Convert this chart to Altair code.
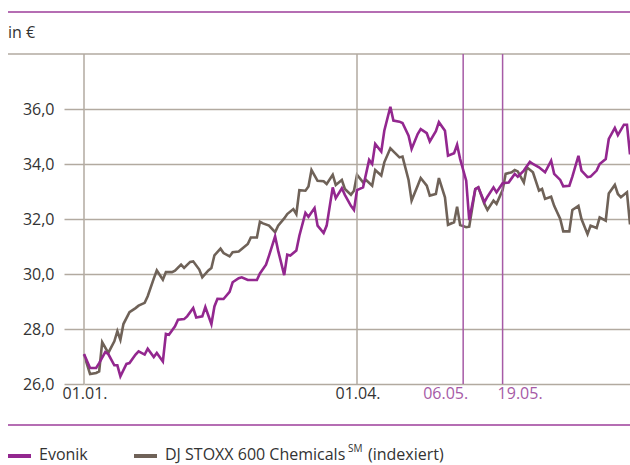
import altair as alt
import pandas as pd

FONT = "Open Sans"
PURPLE = "#93278f"
BROWN = "#6f6258"
GRID = "#b2aaa0"
MARK_PURPLE = "#a65aa6"
FRAME_PURPLE = "#9d3d9a"
TEXT = "#333333"

# Closing prices, first half of the year (day offset from 1 January, value in EUR)
evonik_days = [0, 2, 4, 5, 7, 8, 10, 11, 12, 14, 15, 17, 18, 20, 21, 23, 24, 26, 27, 28,
               30, 31, 33, 34, 36, 37, 39, 40, 42, 43, 44, 46, 48, 49, 51, 52, 54, 56, 57, 58,
               60, 61, 63, 64, 66, 67, 68, 70, 71, 73, 74, 76, 77, 79, 80, 82, 83, 85, 86, 88,
               89, 90, 92, 94, 95, 96, 98, 99, 101, 102, 104, 105, 107, 108, 110, 111, 113, 114, 116, 117,
               119, 120, 122, 123, 124, 126, 127, 129, 130, 132, 133, 135, 136, 138, 140, 142, 143, 145, 147, 148,
               150, 152, 154, 155, 157, 158, 160, 161, 163, 164, 166, 167, 169, 170, 172, 173, 175, 176, 178, 179,
               180]
evonik_values = [27.09, 26.58, 26.58, 26.76, 27.16, 27.09, 26.68, 26.68, 26.28, 26.73, 26.76, 27.07, 27.19, 27.07, 27.28, 26.98, 27.13, 26.82, 27.82, 27.79,
                 28.10, 28.34, 28.36, 28.46, 28.76, 28.42, 28.46, 28.80, 28.18, 28.82, 29.10, 29.09, 29.35, 29.70, 29.85, 29.88, 29.78, 29.78, 29.78, 30.02,
                 30.34, 30.67, 31.37, 30.85, 29.96, 30.70, 30.67, 30.85, 31.39, 32.22, 32.08, 32.40, 31.76, 31.49, 31.76, 33.15, 32.76, 33.12, 32.88, 32.48,
                 32.33, 33.05, 33.15, 34.15, 34.00, 34.73, 34.45, 35.21, 36.08, 35.58, 35.54, 35.49, 35.03, 34.55, 35.09, 35.27, 35.12, 34.82, 35.19, 35.52,
                 35.21, 34.30, 34.39, 34.70, 34.18, 33.39, 31.96, 33.09, 33.15, 32.61, 32.81, 33.15, 32.97, 33.30, 33.33, 33.64, 33.54, 33.76, 34.08, 34.00,
                 33.88, 33.70, 34.12, 33.64, 33.42, 33.19, 33.21, 33.54, 34.30, 33.76, 33.52, 33.54, 33.76, 34.00, 34.18, 34.91, 35.31, 35.05, 35.43, 35.43,
                 34.35]

# DJ STOXX 600 Chemicals, indexed to the Evonik start value
stoxx_days = [0, 2, 4, 5, 6, 8, 10, 11, 12, 13, 15, 17, 18, 20, 21, 23, 24, 26, 27, 29,
              30, 32, 33, 35, 36, 38, 39, 41, 42, 43, 45, 46, 48, 49, 51, 52, 54, 55, 57, 58,
              59, 61, 63, 64, 66, 67, 69, 70, 71, 73, 74, 75, 77, 79, 80, 82, 83, 85, 86, 88,
              89, 90, 92, 93, 95, 96, 98, 99, 101, 102, 104, 105, 107, 108, 110, 111, 113, 114, 116, 117,
              119, 120, 122, 123, 124, 126, 127, 129, 130, 132, 133, 135, 136, 138, 139, 141, 142, 143, 145, 146,
              148, 150, 151, 152, 154, 155, 157, 158, 160, 161, 163, 164, 166, 167, 169, 170, 172, 173, 175, 176,
              177, 179, 180]
stoxx_values = [27.07, 26.36, 26.40, 26.46, 27.52, 27.13, 27.55, 27.92, 27.61, 28.18, 28.61, 28.76, 28.85, 28.95, 29.19, 29.83, 30.13, 29.79, 30.07, 30.07,
                30.12, 30.34, 30.22, 30.44, 30.46, 30.16, 29.88, 30.13, 30.22, 30.68, 30.92, 30.76, 30.64, 30.79, 30.82, 30.91, 31.09, 31.33, 31.33, 31.90,
                31.84, 31.76, 31.52, 31.76, 32.02, 32.18, 32.36, 32.18, 33.05, 33.03, 33.18, 33.78, 33.39, 33.37, 33.27, 33.61, 33.24, 33.42, 33.09, 32.88,
                33.03, 33.61, 33.33, 33.42, 33.21, 33.78, 33.58, 34.06, 34.57, 34.46, 34.24, 34.27, 33.42, 32.67, 33.21, 33.49, 33.21, 32.85, 32.91, 33.49,
                32.79, 31.79, 31.88, 32.45, 31.78, 31.70, 31.72, 33.09, 33.15, 32.55, 32.33, 32.67, 32.55, 33.05, 33.64, 33.70, 33.78, 33.73, 33.33, 33.88,
                33.70, 33.03, 33.09, 32.73, 32.81, 32.48, 32.00, 31.55, 31.55, 32.33, 32.48, 32.00, 31.45, 31.76, 31.67, 32.06, 31.94, 32.93, 33.24, 32.91,
                32.79, 32.97, 31.80]

y_ticks = [26, 28, 30, 32, 34, 36]
y_top = 38

# Reference dates drawn as vertical lines
ref_dates = ["2015-01-01", "2015-04-01"]
ref_labels = ["01.01.", "01.04."]
event_dates = ["2015-05-06", "2015-05-19"]
event_labels = ["06.05.", "19.05."]

legend_labels = ["Evonik", "DJ STOXX 600 Chemicals"]

base_date = pd.Timestamp("2015-01-01")


def to_dates(days):
    return [(base_date + pd.Timedelta(days=d)).strftime("%Y-%m-%d") for d in days]


evonik = pd.DataFrame({"date": to_dates(evonik_days), "value": evonik_values})
stoxx = pd.DataFrame({"date": to_dates(stoxx_days), "value": stoxx_values})

x_scale = alt.Scale(
    type="utc",
    domain=[alt.DateTime(year=2015, month=1, date=1, utc=True),
            alt.DateTime(year=2015, month=6, date=30, utc=True)],
)
y_scale = alt.Scale(domain=[26, y_top], nice=False, zero=False)

y_axis = alt.Axis(
    values=y_ticks, title=None, domain=False,
    grid=True, gridColor=GRID, gridWidth=1.5,
    ticks=True, tickSize=20, tickColor=GRID, tickWidth=1.5,
    labelPadding=10, labelFont=FONT, labelFontSize=16, labelColor=TEXT,
    labelExpr="replace(format(datum.value, '.1f'), '.', ',')",
)


def xq(field="date"):
    return alt.X(f"{field}:T", scale=x_scale, axis=None)


def yq(field="value"):
    return alt.Y(f"{field}:Q", scale=y_scale, axis=y_axis)


stoxx_line = alt.Chart(stoxx).mark_line(color=BROWN, strokeWidth=2.6).encode(x=xq(), y=yq())
evonik_line = alt.Chart(evonik).mark_line(color=PURPLE, strokeWidth=2.6).encode(x=xq(), y=yq())

top_rule = alt.Chart(pd.DataFrame({"value": [y_top]})).mark_rule(color=GRID, strokeWidth=1.5).encode(
    y=yq(), x=alt.value(-76), x2=alt.value(546)
)

refs = pd.DataFrame({"date": ref_dates, "label": ref_labels})
events = pd.DataFrame({"date": event_dates, "label": event_labels})

ref_rules = alt.Chart(refs).mark_rule(color=GRID, strokeWidth=1.5).encode(x=xq())
event_rules = alt.Chart(events).mark_rule(color=MARK_PURPLE, strokeWidth=1.5).encode(x=xq())

label_style = dict(font=FONT, fontSize=16, baseline="middle")
ref_text = alt.Chart(refs).mark_text(color=TEXT, align="center", dx=1, **label_style).encode(
    x=xq(), y=alt.value(340), text="label:N"
)
event_text_left = alt.Chart(events.iloc[[0]]).mark_text(
    color=MARK_PURPLE, align="right", dx=5, **label_style
).encode(x=xq(), y=alt.value(340), text="label:N")
event_text_right = alt.Chart(events.iloc[[1]]).mark_text(
    color=MARK_PURPLE, align="left", dx=-5, **label_style
).encode(x=xq(), y=alt.value(340), text="label:N")

one = pd.DataFrame({"k": [0]})

frame_top = alt.Chart(one).mark_rule(color=FRAME_PURPLE, strokeWidth=1.5).encode(
    x=alt.value(-76), x2=alt.value(546), y=alt.value(-42)
)
frame_bottom = alt.Chart(one).mark_rule(color=FRAME_PURPLE, strokeWidth=1.5).encode(
    x=alt.value(-76), x2=alt.value(546), y=alt.value(371)
)
unit_text = alt.Chart(pd.DataFrame({"t": ["in €"]})).mark_text(
    font=FONT, fontSize=16, color=TEXT, align="left", baseline="middle"
).encode(x=alt.value(-76), y=alt.value(-21), text="t:N")

# Legend: swatches and labels
swatch_evonik = alt.Chart(one).mark_rule(color=PURPLE, strokeWidth=4).encode(
    x=alt.value(-76), x2=alt.value(-53), y=alt.value(402)
)
swatch_stoxx = alt.Chart(one).mark_rule(color=BROWN, strokeWidth=4).encode(
    x=alt.value(50), x2=alt.value(73), y=alt.value(402)
)
legend_style = dict(font=FONT, fontSize=16, color=TEXT, align="left", baseline="middle")
legend_evonik = alt.Chart(pd.DataFrame({"t": [legend_labels[0]]})).mark_text(**legend_style).encode(
    x=alt.value(-45), y=alt.value(401), text="t:N"
)
legend_stoxx = alt.Chart(pd.DataFrame({"t": [legend_labels[1]]})).mark_text(**legend_style).encode(
    x=alt.value(81), y=alt.value(401), text="t:N"
)
legend_sm = alt.Chart(pd.DataFrame({"t": ["SM"]})).mark_text(
    font=FONT, fontSize=10, color=TEXT, align="left", baseline="middle"
).encode(x=alt.value(264), y=alt.value(395), text="t:N")
legend_idx = alt.Chart(pd.DataFrame({"t": ["(indexiert)"]})).mark_text(**legend_style).encode(
    x=alt.value(284), y=alt.value(401), text="t:N"
)

chart = alt.layer(
    stoxx_line, top_rule, ref_rules, event_rules, evonik_line,
    ref_text, event_text_left, event_text_right,
    frame_top, frame_bottom, unit_text,
    swatch_evonik, swatch_stoxx, legend_evonik, legend_stoxx, legend_sm, legend_idx,
).properties(
    width=546, height=330,
    autosize=alt.AutoSizeParams(type="none"),
    padding={"left": 84, "top": 54, "right": 0, "bottom": 81},
).configure_view(strokeWidth=0)

chart.save("out.html", embed_options={"renderer": "svg", "actions": False})
